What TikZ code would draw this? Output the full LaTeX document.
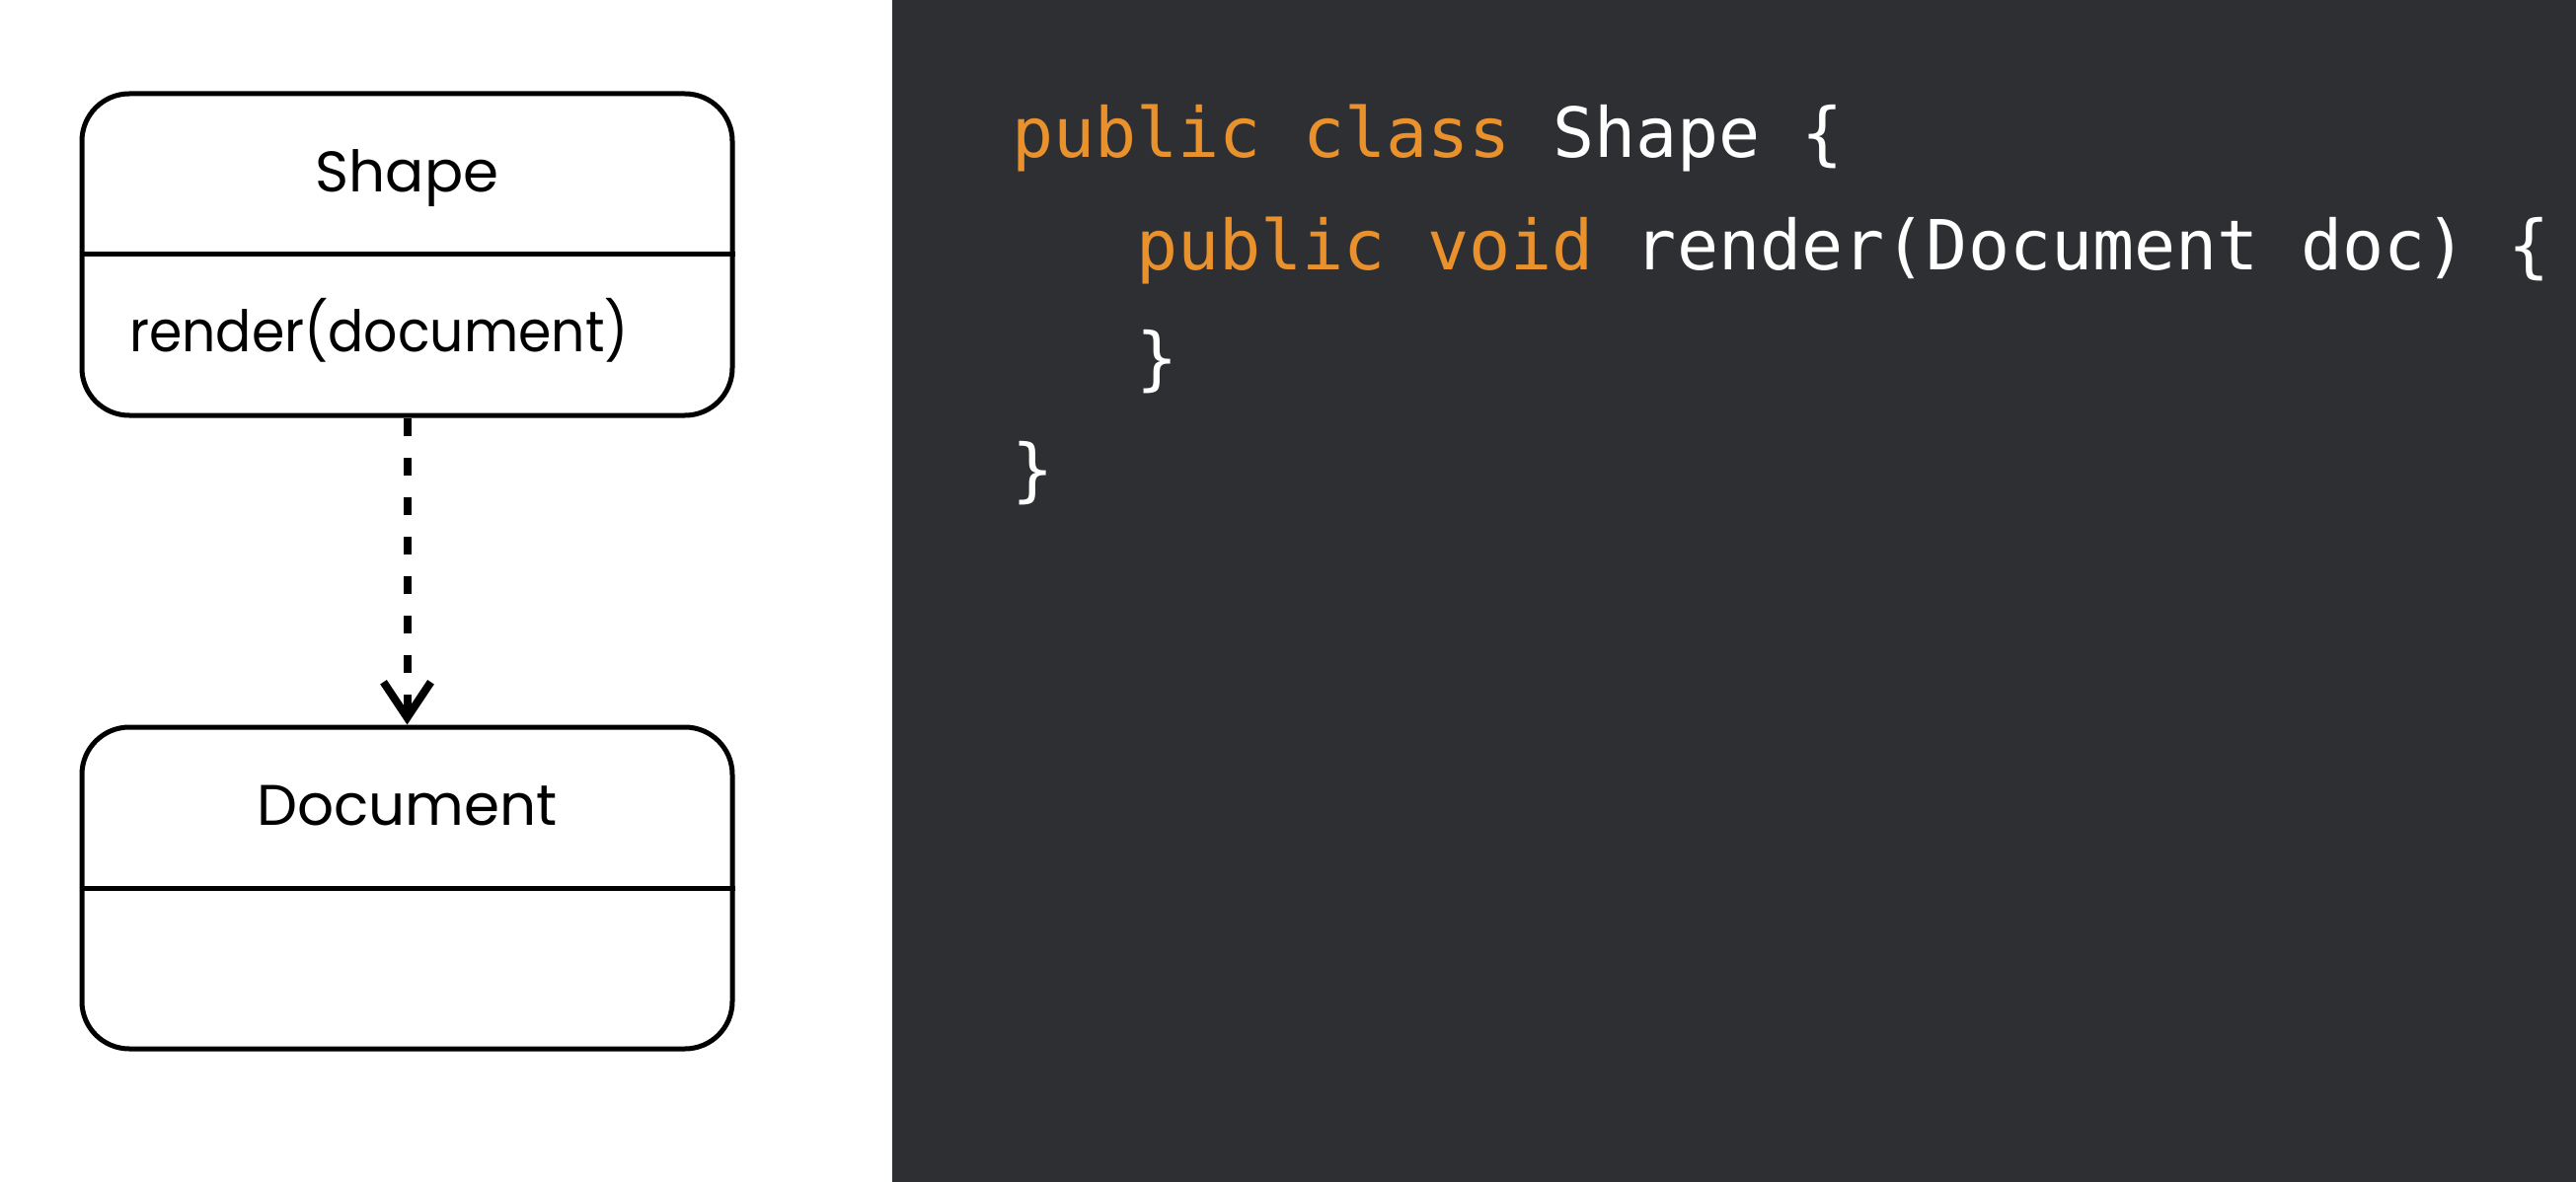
\documentclass[tikz,border=0pt]{standalone}
\usepackage{fontspec}
\setmainfont{Poppins}
\setmonofont{DejaVu Sans Mono}
\usetikzlibrary{arrows.meta, positioning}
\definecolor{codebg}{HTML}{2E2F33}
\definecolor{keyword}{HTML}{E8912D}
\tikzset{
  classbox/.style={rectangle, rounded corners=48pt, draw=black, line width=5pt, minimum width=659pt, minimum height=326pt},
  classtext/.style={font=\fontsize{58}{70}\selectfont, inner sep=0pt},
  codeline/.style={font=\ttfamily\fontsize{70}{84}\selectfont, text=white, inner sep=0pt, anchor=base west}
}
\begin{document}
\begin{tikzpicture}[x=1pt, y=-1pt, node distance=311pt]
\useasboundingbox (0,0) rectangle (2610,1198);
\fill[white] (0,0) rectangle (904,1198);
\fill[codebg] (904,0) rectangle (2610,1198);

% UML classes
\node (shape_cls) [classbox] at (412.5,258) {};
\node (doc_cls) [classbox, below=of shape_cls] {};
\draw [line width=5pt] (shape_cls.west) -- (shape_cls.east);
\draw [line width=5pt] (doc_cls.west) -- (doc_cls.east);
\node (shape_name) [classtext, anchor=base] at (412.5,195) {Shape};
\node (shape_op) [classtext, anchor=base west] at (131,356) {\scalebox{0.925}[1]{render(document)}};
\node (doc_name) [classtext, anchor=base] at (412.5,836) {Document};

% Dependency
\draw [line width=8pt, dash pattern=on 18pt off 22pt, -{Straight Barb[length=36pt, width=48pt]}] (shape_cls.south) -- (doc_cls.north);

% Code
\node (line1) [codeline] at (1025,160) {\textcolor{keyword}{public class} Shape \{};
\node (line2) [codeline] at (1151,273.5) {\textcolor{keyword}{public void} render(Document doc) \{};
\node (line3) [codeline] at (1151,387) {\}};
\node (line4) [codeline] at (1025,500.5) {\}};
\end{tikzpicture}
\end{document}
